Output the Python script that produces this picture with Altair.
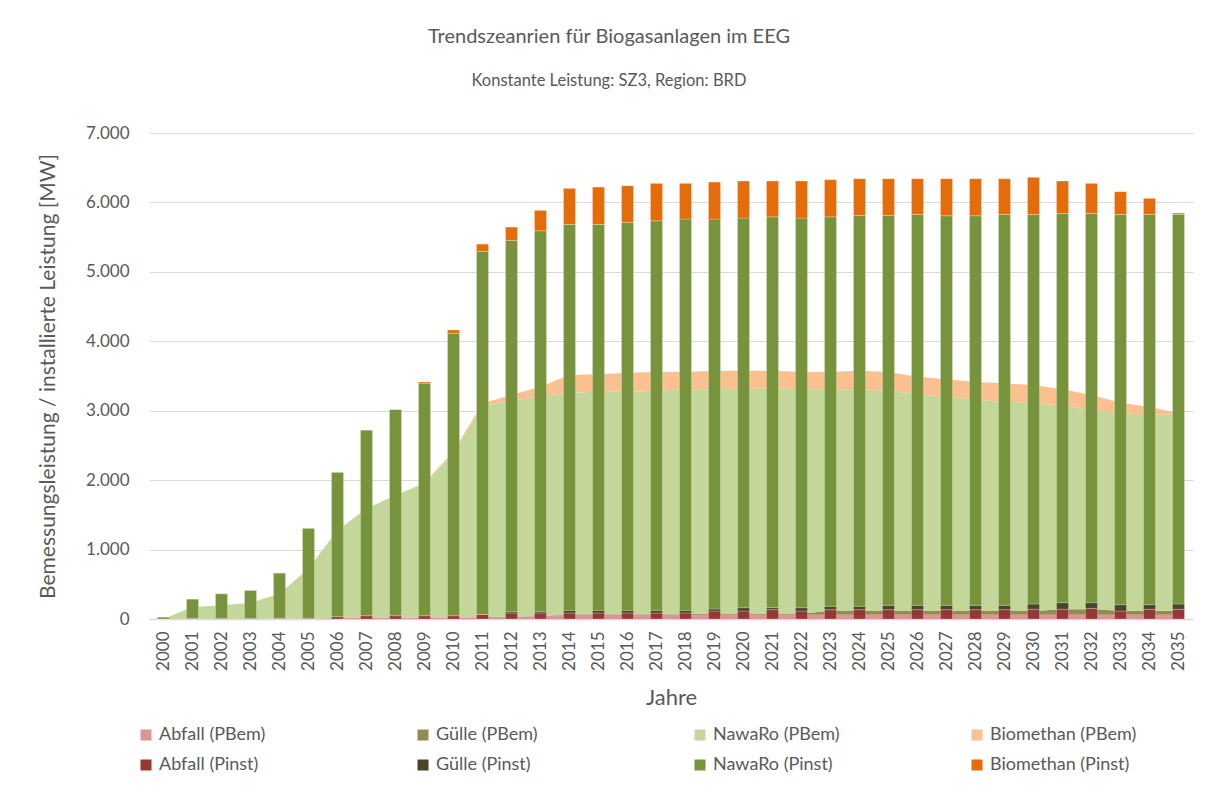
import altair as alt
import pandas as pd

years = [str(y) for y in range(2000, 2036)]

# Bemessungsleistung (PBem) - stacked areas
abfall_pbem = [0, 5, 5, 5, 5, 5, 15, 20, 20, 20, 20, 25, 35, 45,
               60, 60, 60, 60, 60, 60, 60, 60, 60, 60, 60, 60, 60, 60, 60, 60, 60, 60, 60, 60, 60, 60]
guelle_pbem = [0, 0, 0, 0, 0, 0, 0, 0, 0, 0, 0, 0, 0, 0,
               10, 10, 10, 10, 10, 20, 20, 20, 20, 55, 55, 55, 55, 55, 55, 55, 55, 80, 80, 60, 60, 60]
nawaro_pbem = [0, 168, 192, 226, 360, 721, 1264, 1571, 1764, 1932, 2365, 3042, 3104, 3166,
               3190, 3204, 3204, 3218, 3238, 3228, 3233, 3242, 3228, 3193, 3193, 3173, 3125, 3087,
               3039, 3015, 3000, 2927, 2870, 2842, 2827, 2827]
biomethan_pbem = [0, 0, 0, 0, 0, 0, 0, 0, 0, 10, 30, 39, 87, 135,
                  254, 250, 274, 270, 250, 269, 264, 255, 250, 250, 269, 270, 250, 250,
                  259, 264, 255, 241, 216, 153, 111, 15]

# installierte Leistung (Pinst) - stacked bars
abfall_pinst = [0, 12, 12, 12, 12, 12, 34, 48, 48, 48, 48, 67, 87, 87,
                87, 87, 87, 87, 87, 115, 115, 135, 115, 135, 135, 135, 135, 135,
                135, 135, 140, 140, 153, 115, 140, 140]
guelle_pinst = [0, 0, 0, 0, 0, 0, 0, 0, 0, 0, 0, 0, 19, 19,
                38, 38, 38, 38, 38, 29, 48, 29, 48, 48, 48, 62, 62, 62,
                62, 62, 76, 95, 82, 91, 66, 76]
nawaro_pinst = [29, 276, 353, 401, 651, 1296, 2081, 2673, 2971, 3346, 4067, 5226, 5346, 5485,
                5558, 5558, 5591, 5611, 5635, 5616, 5611, 5629, 5611, 5610, 5629, 5615, 5630, 5611,
                5611, 5630, 5611, 5606, 5606, 5621, 5621, 5611]
biomethan_pinst = [0, 0, 0, 0, 0, 0, 0, 0, 0, 19, 48, 106, 192, 294,
                   519, 538, 524, 538, 514, 533, 534, 515, 534, 534, 529, 529, 514, 533,
                   533, 514, 534, 467, 433, 327, 231, 19]

series_names = ["Abfall (PBem)", "Gülle (PBem)", "NawaRo (PBem)", "Biomethan (PBem)",
                "Abfall (Pinst)", "Gülle (Pinst)", "NawaRo (Pinst)", "Biomethan (Pinst)"]
series_colors = ["#da9694", "#948a54", "#c4d79b", "#fac090",
                 "#953735", "#4a452a", "#77933c", "#e46c0a"]

area_series = [abfall_pbem, guelle_pbem, nawaro_pbem, biomethan_pbem]
bar_series = [abfall_pinst, guelle_pinst, nawaro_pinst, biomethan_pinst]


def long_table(names, lists):
    rows = []
    for k, (name, vals) in enumerate(zip(names, lists)):
        for y, v in zip(years, vals):
            rows.append({"Jahr": y, "Serie": name, "Wert": v, "Reihenfolge": k})
    return pd.DataFrame(rows)


df_area = long_table(series_names[:4], area_series)
df_bar = long_table(series_names[4:], bar_series)

FONT = "Lato"
GRAY = "#595959"

x_enc = alt.X(
    "Jahr:O",
    sort=years,
    scale=alt.Scale(paddingInner=0, paddingOuter=0),
    axis=alt.Axis(title="Jahre", labelAngle=-90, labelPadding=12, titlePadding=17,
                  ticks=False, domainColor="#d9d9d9", domainWidth=1.5, grid=False,
                  labelFont=FONT, labelFontSize=17, labelColor=GRAY,
                  titleFont=FONT, titleFontSize=22, titleColor=GRAY, titleFontWeight="normal"),
)
y_enc = alt.Y(
    "Wert:Q",
    stack="zero",
    scale=alt.Scale(domain=[0, 7000], nice=False),
    axis=alt.Axis(title="Bemessungsleistung / installierte Leistung [MW]",
                  values=[0, 1000, 2000, 3000, 4000, 5000, 6000, 7000],
                  labelExpr="replace(format(datum.value, ','), ',', '.')",
                  domain=False, ticks=False, labelPadding=20, titlePadding=27,
                  gridColor="#d9d9d9",
                  labelFont=FONT, labelFontSize=17, labelColor=GRAY,
                  titleFont=FONT, titleFontSize=21, titleColor=GRAY, titleFontWeight="normal"),
)
color_enc = alt.Color(
    "Serie:N",
    scale=alt.Scale(domain=series_names, range=series_colors),
    legend=alt.Legend(title=None, orient="none", legendX=-12, legendY=593, columns=4,
                      direction="horizontal",
                      gridAlign="all", columnPadding=108, rowPadding=12,
                      symbolType="square", symbolSize=121, symbolStrokeWidth=0,
                      labelFont=FONT, labelFontSize=18, labelColor=GRAY, labelOffset=4,
                      labelLimit=300),
)

areas = alt.Chart(df_area).mark_area(opacity=1).encode(
    x=x_enc, y=y_enc, color=color_enc, order=alt.Order("Reihenfolge:Q", sort="ascending")
)
bars = alt.Chart(df_bar).mark_bar(size=12, stroke="#ffffff", strokeWidth=0.6, strokeOpacity=0.4).encode(
    x=x_enc, y=y_enc, color=color_enc, order=alt.Order("Reihenfolge:Q", sort="ascending")
)

chart = alt.layer(areas, bars).properties(
    width=1044,
    height=486,
    autosize=alt.AutoSizeParams(type="none"),
    padding={"left": 141, "top": 125, "right": 11, "bottom": 158},
    background="white",
    title=alt.TitleParams(
        text="Trendszeanrien für Biogasanlagen im EEG",
        subtitle="Konstante Leistung: SZ3, Region: BRD",
        anchor="middle", fontSize=20, subtitleFontSize=16.5, font=FONT, subtitleFont=FONT,
        color=GRAY, subtitleColor=GRAY, fontWeight="normal", offset=35, subtitlePadding=26,
        dx=-62,
    ),
).configure_view(stroke=None)

chart.save("out.html", embed_options={"renderer": "svg", "actions": False})
